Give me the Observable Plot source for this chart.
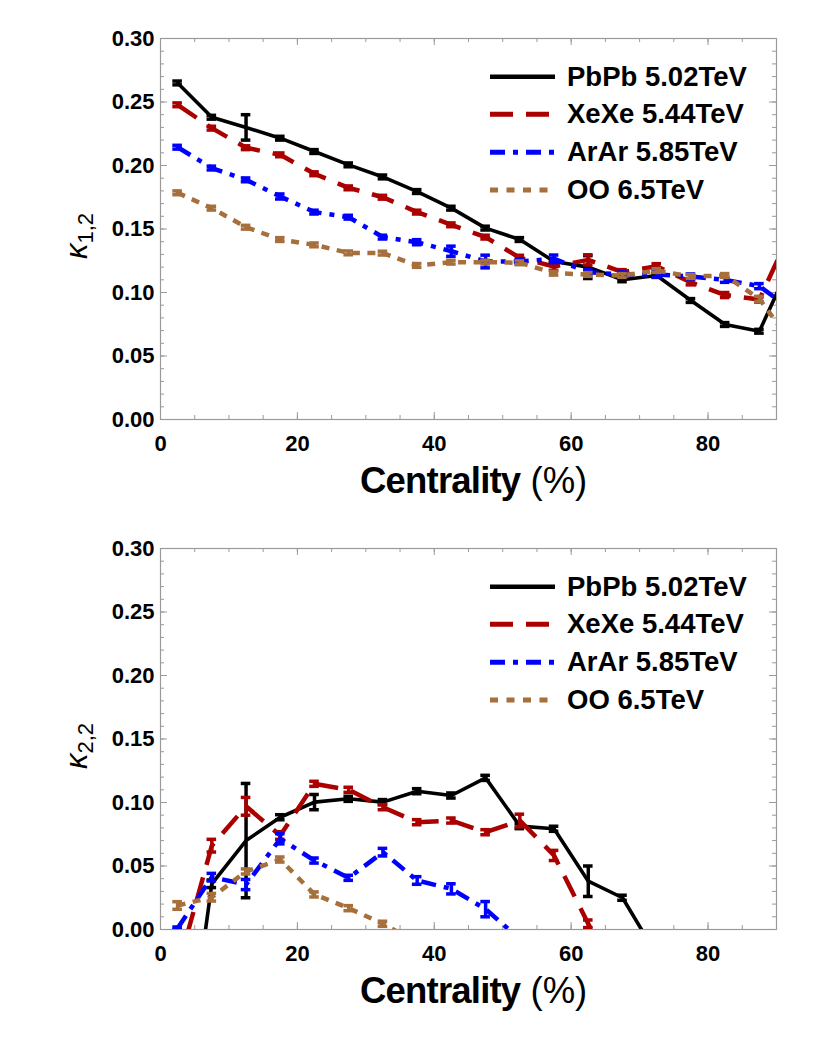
<!DOCTYPE html>
<html>
<head>
<meta charset="utf-8">
<script src="https://cdn.jsdelivr.net/npm/d3@7"></script>
<script src="https://cdn.jsdelivr.net/npm/@observablehq/plot@0.6"></script>
<style>
  html, body { margin: 0; padding: 0; background: #fff; }
  #wrap { width: 830px; }
  #wrap svg { display: block; }
</style>
</head>
<body>
<div id="wrap"></div>
<script>
// ---------------- DATA ----------------
const centrality = [2.5, 7.5, 12.5, 17.5, 22.5, 27.5, 32.5, 37.5, 42.5, 47.5, 52.5, 57.5, 62.5, 67.5, 72.5, 77.5, 82.5, 87.5, 92.5];
const seriesNames = ["PbPb 5.02TeV", "XeXe 5.44TeV", "ArAr 5.85TeV", "OO 6.5TeV"];

// kappa_{1,2}
const pbK1 = [0.265, 0.238, 0.230, 0.2215, 0.211, 0.2005, 0.191, 0.1795, 0.1664, 0.1507, 0.1417, 0.1244, 0.120, 0.110, 0.1134, 0.0937, 0.0748, 0.0695, 0.128];
const pbK1err = [0.0015, 0.0015, 0.010, 0.0015, 0.0015, 0.0015, 0.0015, 0.0015, 0.0015, 0.0015, 0.0015, 0.0015, 0.009, 0.0015, 0.0015, 0.0015, 0.0015, 0.0015, 0.0015];
const xeK1 = [0.2478, 0.2294, 0.214, 0.2084, 0.1935, 0.1824, 0.175, 0.1633, 0.1533, 0.1436, 0.1273, 0.1205, 0.1257, 0.116, 0.1207, 0.108, 0.098, 0.0945, 0.153];
const xeK1err = [0.0015, 0.0015, 0.0015, 0.0015, 0.0015, 0.0015, 0.0015, 0.0015, 0.0015, 0.0015, 0.002, 0.003, 0.004, 0.002, 0.002, 0.002, 0.002, 0.002, 0.002];
const arK1 = [0.2144, 0.198, 0.1887, 0.1756, 0.1633, 0.1593, 0.1436, 0.1396, 0.1325, 0.1244, 0.1244, 0.1265, 0.116, 0.1142, 0.1142, 0.1126, 0.110, 0.105, 0.085];
const arK1err = [0.0015, 0.0015, 0.0015, 0.002, 0.0015, 0.0015, 0.0015, 0.002, 0.004, 0.005, 0.002, 0.003, 0.002, 0.002, 0.002, 0.002, 0.002, 0.002, 0.002];
const ooK1 = [0.1785, 0.1664, 0.1514, 0.1417, 0.1375, 0.1312, 0.131, 0.1213, 0.1239, 0.1239, 0.1234, 0.1152, 0.1142, 0.1134, 0.1173, 0.1126, 0.1134, 0.095, 0.058];
const ooK1err = [0.0015, 0.0015, 0.0015, 0.0015, 0.0015, 0.0015, 0.0015, 0.0015, 0.0015, 0.0015, 0.0015, 0.0015, 0.0015, 0.0015, 0.0015, 0.0015, 0.0015, 0.002, 0.002];

// kappa_{2,2}
const pbK2 = [-0.16, 0.036, 0.070, 0.0884, 0.1003, 0.1029, 0.1003, 0.1089, 0.1055, 0.1194, 0.0814, 0.0793, 0.038, 0.025, -0.02];
const pbK2err = [0.002, 0.003, 0.045, 0.002, 0.006, 0.002, 0.002, 0.002, 0.002, 0.002, 0.002, 0.002, 0.012, 0.002, 0.002];
const xeK2 = [-0.031, 0.066, 0.097, 0.074, 0.1147, 0.110, 0.0963, 0.0845, 0.0858, 0.0766, 0.0858, 0.0583, 0.0045, -0.049];
const xeK2err = [0.002, 0.005, 0.007, 0.003, 0.002, 0.002, 0.002, 0.002, 0.002, 0.002, 0.005, 0.004, 0.003, 0.002];
const arK2 = [0.001, 0.0412, 0.0354, 0.0714, 0.0543, 0.0407, 0.0609, 0.0386, 0.032, 0.016, -0.0075];
const arK2err = [0.001, 0.003, 0.004, 0.004, 0.002, 0.002, 0.003, 0.003, 0.004, 0.006, 0.002];
const ooK2 = [0.0189, 0.0254, 0.0457, 0.0551, 0.0276, 0.0168, 0.0045, -0.0105];
const ooK2err = [0.003, 0.003, 0.002, 0.002, 0.002, 0.002, 0.002, 0.002];

const xTicks = [0, 20, 40, 60, 80];
const yTicks = [0, 0.05, 0.10, 0.15, 0.20, 0.25, 0.30];

// ---------------- STYLES ----------------
const styles = [
  {color: "#000000", width: 3.6, dash: null, legendDash: null, legendWidth: 4.6},
  {color: "#aa0000", width: 4.5, dash: "23,13", legendDash: "23,13", legendWidth: 5},
  {color: "#0000ff", width: 4.5, dash: "15,8,5,8", legendDash: "15,8,5,8", legendWidth: 5},
  {color: "#a66f3b", width: 4.5, dash: "8,7.5", legendDash: "8,8.5", legendWidth: 5}
];

const W = 830, H = 510, ML = 160, MR = 54, MT = 38, MB = 91;
const FW = W - ML - MR, FH = H - MT - MB;
const FONT = "'Liberation Sans', Arial, Helvetica, sans-serif";

function makeChart(valsList, errList, sub) {
  const marks = [];
  const xMinor = d3.range(0, 91, 5);
  const yMinor = d3.range(0, 31, 1).map(d => d / 100);
  const grey = "#9a9a9a";
  marks.push(Plot.frame({stroke: grey, strokeWidth: 1.2}));
  // inward ticks on all four sides
  marks.push(Plot.tickX(xMinor, {x: d => d, stroke: grey, strokeWidth: 1, insetTop: FH - 4}));
  marks.push(Plot.tickX(xMinor, {x: d => d, stroke: grey, strokeWidth: 1, insetBottom: FH - 4}));
  marks.push(Plot.tickX(xTicks, {x: d => d, stroke: grey, strokeWidth: 1, insetTop: FH - 7}));
  marks.push(Plot.tickX(xTicks, {x: d => d, stroke: grey, strokeWidth: 1, insetBottom: FH - 7}));
  marks.push(Plot.tickY(yMinor, {y: d => d, stroke: grey, strokeWidth: 1, insetRight: FW - 4}));
  marks.push(Plot.tickY(yMinor, {y: d => d, stroke: grey, strokeWidth: 1, insetLeft: FW - 4}));
  marks.push(Plot.tickY(yTicks, {y: d => d, stroke: grey, strokeWidth: 1, insetRight: FW - 7}));
  marks.push(Plot.tickY(yTicks, {y: d => d, stroke: grey, strokeWidth: 1, insetLeft: FW - 7}));
  marks.push(Plot.axisX({ticks: xTicks, tickSize: 0, tickPadding: 16, label: null, tickFormat: d => String(d), fontSize: 22, fontWeight: "bold"}));
  marks.push(Plot.axisY({ticks: yTicks, tickSize: 0, tickPadding: 6, label: null, tickFormat: d3.format(".2f"), fontSize: 22, fontWeight: "bold"}));

  valsList.forEach((vals, s) => {
    const st = styles[s];
    const rows = vals.map((v, i) => ({x: centrality[i], y: v, e: errList[s][i]}));
    const caps = rows.flatMap(d => [{x: d.x, y: d.y - d.e}, {x: d.x, y: d.y + d.e}]);
    marks.push(Plot.line(rows, {x: "x", y: "y", stroke: st.color, strokeWidth: st.width,
      strokeDasharray: st.dash || undefined, strokeLinecap: "butt", strokeLinejoin: "round", clip: true}));
    marks.push(Plot.ruleX(rows, {x: "x", y1: d => d.y - d.e, y2: d => d.y + d.e, stroke: st.color, strokeWidth: 3.5, clip: true}));
    marks.push(Plot.ruleY(caps, {y: "y", x1: d => d.x - 0.7, x2: d => d.x + 0.7, stroke: st.color, strokeWidth: 3.5, clip: true}));
  });

  const svg = Plot.plot({
    width: W, height: H,
    marginLeft: ML, marginRight: MR, marginTop: MT, marginBottom: MB,
    x: {domain: [0, 90]},
    y: {domain: [0, 0.3]},
    style: {fontFamily: FONT, fontSize: "22px", fontWeight: "bold", color: "black", background: "white", overflow: "visible"},
    marks
  });

  const g = d3.select(svg).append("g").attr("font-family", FONT).attr("fill", "black").attr("text-anchor", "start");
  // x title
  const xt = g.append("text").attr("x", 360).attr("y", 493).attr("font-size", 36.5).attr("text-anchor", "start");
  xt.append("tspan").attr("font-weight", "bold").attr("letter-spacing", "-0.8").text("Centrality");
  xt.append("tspan").attr("font-weight", "normal").text(" (%)");
  // y title
  const yt = g.append("text").attr("transform", "translate(87,236) rotate(-90)").attr("text-anchor", "middle").attr("font-weight", "normal");
  yt.append("tspan").attr("font-style", "italic").attr("font-size", 31).text("κ");
  yt.append("tspan").attr("font-size", 22).attr("dy", 6).text(sub);
  // legend
  const rowsY = [76.7, 114.3, 152.3, 190];
  seriesNames.forEach((name, s) => {
    const st = styles[s];
    g.append("line").attr("x1", 490).attr("x2", 555).attr("y1", rowsY[s]).attr("y2", rowsY[s])
      .attr("stroke", st.color).attr("stroke-width", st.legendWidth)
      .attr("stroke-dasharray", st.legendDash || null);
    g.append("text").attr("x", 567).attr("y", rowsY[s] + 9).attr("font-size", 27.5).attr("font-weight", "bold")
      .attr("text-anchor", "start").text(name);
  });
  return svg;
}

const wrap = document.getElementById("wrap");
wrap.appendChild(makeChart([pbK1, xeK1, arK1, ooK1], [pbK1err, xeK1err, arK1err, ooK1err], "1,2"));
wrap.appendChild(makeChart([pbK2, xeK2, arK2, ooK2], [pbK2err, xeK2err, arK2err, ooK2err], "2,2"));
</script>
</body>
</html>
